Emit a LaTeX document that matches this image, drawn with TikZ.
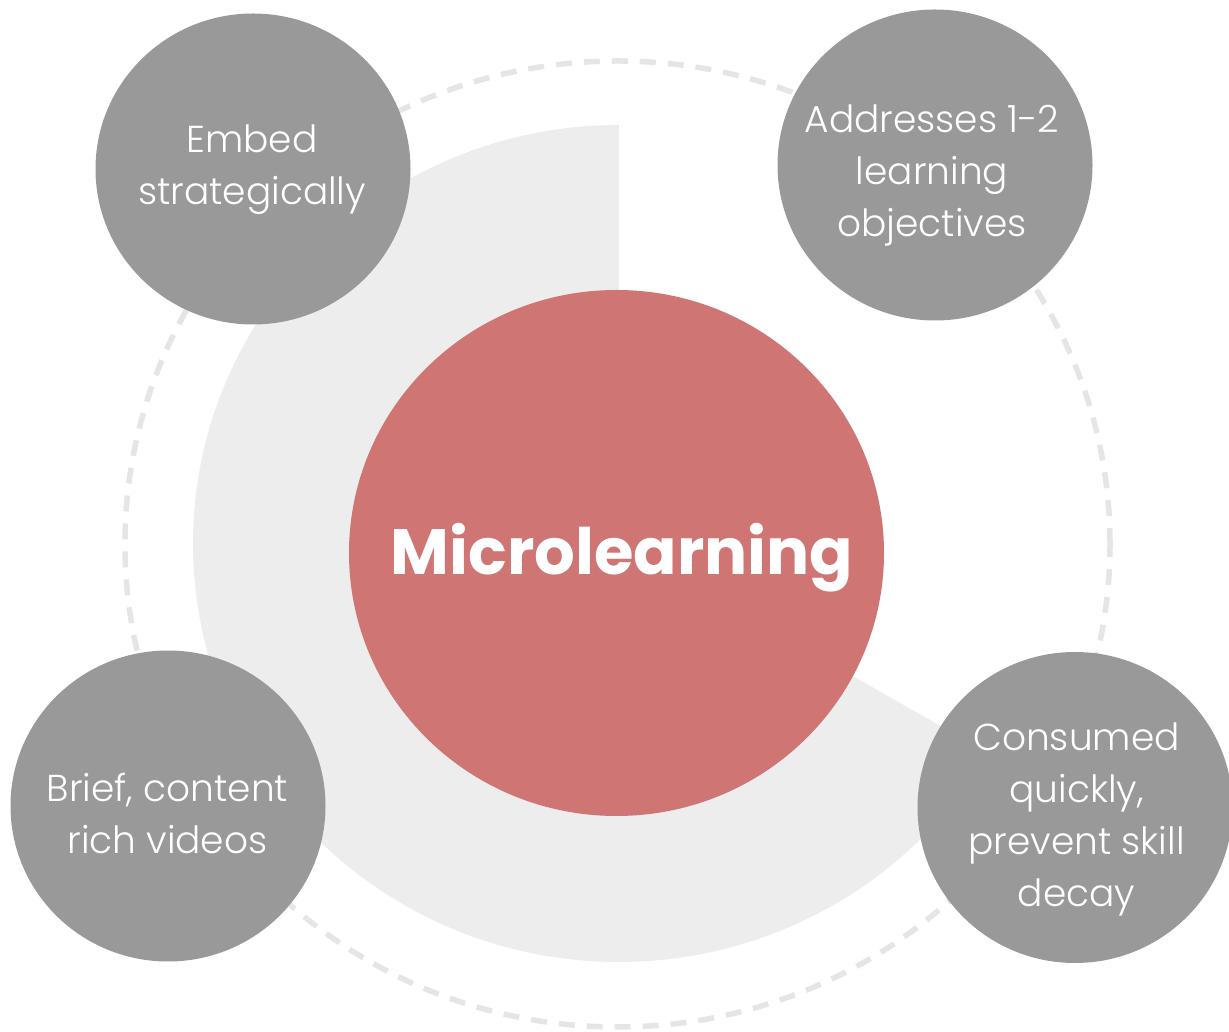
\documentclass[tikz,border=0pt]{standalone}
\usepackage{fontspec}
\setmainfont{Poppins}[UprightFont=* Light, BoldFont=* Bold]
\usetikzlibrary{shapes.geometric}

\definecolor{hubred}{HTML}{CF7574}
\definecolor{topicgray}{HTML}{999999}
\definecolor{sectorgray}{HTML}{EDEDED}
\definecolor{ringgray}{HTML}{E5E5E5}

\tikzset{
    hub/.style={ellipse, fill=hubred, minimum width=535pt, minimum height=526pt, inner sep=0pt},
    hubtext/.style={text=white, font=\fontsize{64}{70}\selectfont\bfseries},
    topic/.style={ellipse, fill=topicgray, minimum width=315pt, minimum height=311pt, inner sep=0pt},
    topictext/.style={text=white, align=center, inner sep=0pt, font=\fontsize{37.5}{52}\selectfont},
}

\begin{document}
\begin{tikzpicture}[x=1pt,y=1pt]

    \def\rsecx{426}
    \def\rsecy{418.5}
    \useasboundingbox (0,0) rectangle (1229,1031);
    \coordinate (sc) at (619,487.5);
    \coordinate (rc) at (617.5,487);

    %Sector
    \fill[sectorgray] (sc) -- ++(0,\rsecy) arc[start angle=90, end angle=330, x radius=\rsecx, y radius=\rsecy] -- cycle;

    %Anillo
    \draw[ringgray, line width=5.5pt, dash pattern=on 16pt off 12pt] (rc) ellipse[x radius=492.5, y radius=483];

    %Centro
    \node[hub] (micro) at (616.5,478) {};
    \node[hubtext] (micro-text) at (622,473) {Microlearning};

    %Temas
    \node[topic] (embed) at (253,862) {};
    \node[topic] (objectives) at (935,866) {};
    \node[topic] (videos) at (168,225) {};
    \node[topic] (decay) at (1075,223.5) {};

    \node[topictext] (embed-text) at (252,861) {Embed\\strategically};
    \node[topictext] (objectives-text) at (932,856) {Addresses 1-2\\learning\\objectives};
    \node[topictext] (videos-text) at (167.5,218) {Brief, content\\rich videos};
    \node[topictext] (decay-text) at (1076.5,212) {Consumed\\quickly,\\prevent skill\\decay};

\end{tikzpicture}
\end{document}
